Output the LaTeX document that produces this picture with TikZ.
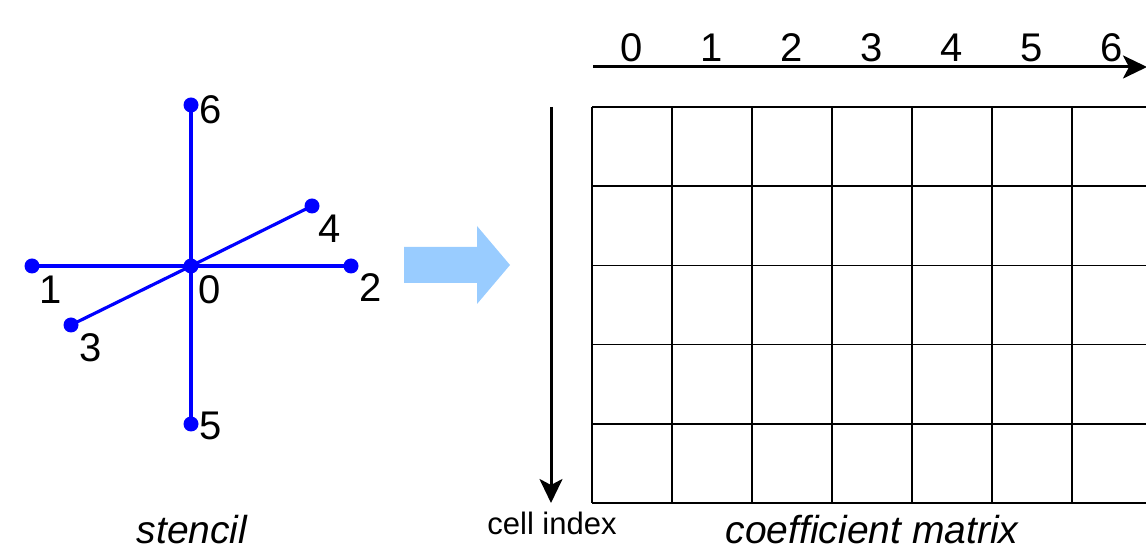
\documentclass[tikz,border=0pt]{standalone}
\usepackage{fontspec}
\setmainfont{Liberation Sans}
\usetikzlibrary{arrows.meta, positioning}
\definecolor{stencilblue}{HTML}{0000FF}
\definecolor{pushblue}{HTML}{99CCFF}
\tikzset{
  >={Stealth[length=12pt, width=11.5pt, inset=3pt]},
  dot/.style={circle, fill=stencilblue, inner sep=0pt, minimum size=7.5pt},
  leg/.style={draw=stencilblue, line width=1.6pt},
  lbl/.style={inner sep=0pt, font=\fontsize{20}{24}\selectfont},
  caption/.style={lbl, font=\fontsize{19.5}{23}\selectfont\itshape},
  small/.style={inner sep=0pt, font=\fontsize{15.5}{18}\selectfont},
  axis/.style={->, line width=1.5pt, black},
  cellline/.style={line width=0.8pt, black},
}
\begin{document}
\begin{tikzpicture}[x=0.5pt, y=-0.5pt]
  \useasboundingbox (0,0) rectangle (1146,549);
  % stencil
  \node[dot] (p0) at (191,266) {};
  \node[dot] (p1) at (32,266) {};
  \node[dot] (p2) at (351,266) {};
  \node[dot] (p3) at (71,325) {};
  \node[dot] (p4) at (312,206) {};
  \node[dot] (p5) at (191,424) {};
  \node[dot] (p6) at (191,105) {};
  \foreach \n in {1,...,6}{ \draw[leg] (p0.center) -- (p\n.center); }
  \node[lbl] (l0) at (210,290) {0};
  \node[lbl] (l1) at (51,290) {1};
  \node[lbl] (l2) at (371,288) {2};
  \node[lbl] (l3) at (91,348) {3};
  \node[lbl] (l4) at (330,229) {4};
  \node[lbl] (l5) at (211,426) {5};
  \node[lbl] (l6) at (211,110) {6};
  \node[caption] (stencil) at (192,530) {stencil};
  % big arrow
  \fill[pushblue] (404,247) -- (477,247) -- (477,226) -- (510,265)
    -- (477,304) -- (477,283) -- (404,283) -- cycle;
  % coefficient matrix
  \foreach \r in {0,...,5}{ \draw[cellline] (592,107+79.2*\r) -- (1150,107+79.2*\r); }
  \foreach \c in {0,...,6}{ \draw[cellline] (592+80*\c,107) -- (592+80*\c,503); }
  \coordinate (colstart) at (593,67);
  \coordinate (colend) at (1147,67);
  \draw[axis] (colstart) -- (colend);
  \foreach \c in {0,...,6}{ \node[lbl] (c\c) at (632+80*\c,48) {\c}; }
  \coordinate (rowstart) at (551,107);
  \coordinate (rowend) at (551,503);
  \draw[axis] (rowstart) -- (rowend);
  \node[small] (cellindex) at (552,523) {cell index};
  \node[caption] (matrix) at (872,530) {coefficient matrix};
\end{tikzpicture}
\end{document}
